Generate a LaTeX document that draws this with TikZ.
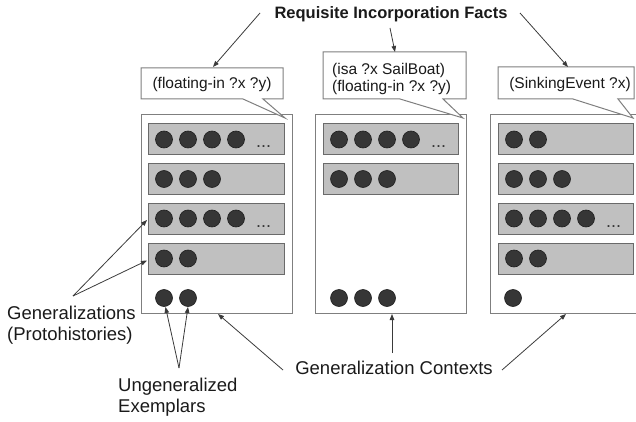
\documentclass[tikz,border=0pt]{standalone}
\usepackage{fontspec}
\setmainfont{Liberation Sans}
\usetikzlibrary{arrows.meta}
\definecolor{panelline}{HTML}{7F7F7F}
\definecolor{rowfill}{HTML}{C0C0C0}
\definecolor{rowline}{HTML}{6A6A6A}
\definecolor{dotfill}{HTML}{363636}
\definecolor{dotline}{HTML}{1E1E1E}
\definecolor{arrowc}{HTML}{3A3A3A}
\definecolor{txt}{HTML}{1A1A1A}
\tikzset{
  panel/.style={draw=panelline, fill=white, line width=1pt},
  rowbox/.style={draw=rowline, fill=rowfill, line width=1pt},
  dot/.style={circle, fill=dotfill, draw=dotline, line width=0.6pt, minimum size=17pt, inner sep=0pt},
  ell/.style={text=dotfill, font=\fontsize{18}{18}\selectfont, inner sep=0pt, anchor=base},
  callout/.style={draw=panelline, fill=white, line width=1pt, line join=miter},
  arr/.style={draw=arrowc, line width=0.8pt, -{Triangle[length=6pt,width=4.5pt]}},
  ctext/.style={text=txt, font=\fontsize{15.5}{17}\selectfont, inner sep=0pt},
  lbl/.style={text=txt, font=\fontsize{18.5}{20.5}\selectfont, inner sep=0pt, align=left},
}
\begin{document}
\begin{tikzpicture}[x=1pt,y=-1pt]
\useasboundingbox (0,0) rectangle (636,422);
\clip (0,0) rectangle (636,422);

% ---------- panels ----------
\draw[panel] (141,115) rectangle (292,313);
\draw[panel] (315,115) rectangle (466,313);
\draw[panel] (490,115) rectangle (641,313);

% left panel rows
\foreach \yt in {124,163.5,203,243}
  \draw[rowbox] (148,\yt) rectangle (284,{\yt+31});
\foreach \i in {1,...,4} \node[dot] (L1d\i) at ({164+24*(\i-1)},139.5) {};
\node[ell] (L1e) at (263.5,148) {...};
\foreach \i in {1,...,3} \node[dot] (L2d\i) at ({164+24*(\i-1)},179) {};
\foreach \i in {1,...,4} \node[dot] (L3d\i) at ({164+24*(\i-1)},218.5) {};
\node[ell] (L3e) at (263.5,227) {...};
\foreach \i in {1,...,2} \node[dot] (L4d\i) at ({164+24*(\i-1)},258.5) {};
\foreach \i in {1,...,2} \node[dot] (L5d\i) at ({164+24*(\i-1)},298) {};

% middle panel rows
\foreach \yt in {124,163.5}
  \draw[rowbox] (323,\yt) rectangle (458,{\yt+31});
\foreach \i in {1,...,4} \node[dot] (M1d\i) at ({339+24*(\i-1)},139.5) {};
\node[ell] (M1e) at (438.5,148) {...};
\foreach \i in {1,...,3} \node[dot] (M2d\i) at ({339+24*(\i-1)},179) {};
\foreach \i in {1,...,3} \node[dot] (M5d\i) at ({339+24*(\i-1)},298) {};

% right panel rows
\foreach \yt in {124,163.5,203,243}
  \draw[rowbox] (498,\yt) rectangle (633,{\yt+31});
\foreach \i in {1,...,2} \node[dot] (R1d\i) at ({514+24*(\i-1)},139.5) {};
\foreach \i in {1,...,3} \node[dot] (R2d\i) at ({514+24*(\i-1)},179) {};
\foreach \i in {1,...,4} \node[dot] (R3d\i) at ({514+24*(\i-1)},218.5) {};
\node[ell] (R3e) at (613.5,227) {...};
\foreach \i in {1,...,2} \node[dot] (R4d\i) at ({514+24*(\i-1)},258.5) {};
\node[dot] (R5d1) at (513,298) {};

% ---------- callouts ----------
\draw[callout] (141,68) -- (283,68) -- (283,99) -- (263,99) -- (285,118) -- (243,99) -- (141,99) -- cycle;
\node[ctext] (c1t) at (212,84) {(floating-in ?x ?y)};

\draw[callout] (323,52) -- (466,52) -- (466,99) -- (443,99) -- (463,118) -- (400,99) -- (323,99) -- cycle;
\node[ctext, anchor=west] (c2a) at (332,70) {(isa ?x SailBoat)};
\node[ctext, anchor=west] (c2b) at (332,87) {(floating-in ?x ?y)};

\draw[callout] (498,67) -- (634,67) -- (634,99) -- (618,99) -- (633,118) -- (573,99) -- (498,99) -- cycle;
\node[ctext] (c3t) at (570,84) {(SinkingEvent ?x)};

% ---------- labels ----------
\node[text=txt, font=\bfseries\fontsize{16.5}{18}\selectfont, inner sep=0pt] (title) at (391,14) {Requisite Incorporation Facts};
\node[lbl, anchor=west] (gen) at (7,325) {Generalizations\\(Protohistories)};
\node[lbl, anchor=west] (ung) at (118,397) {Ungeneralized\\Exemplars};
\node[lbl] (ctx) at (394,368) {Generalization Contexts};

% ---------- arrow end points ----------
\coordinate (tL) at (260,13);
\coordinate (tM) at (390,28);
\coordinate (tR) at (520,13);
\coordinate (c1top) at (213,67);
\coordinate (c2top) at (395,52);
\coordinate (c3top) at (568,67);

\coordinate (gO) at (73,296);
\coordinate (gT3) at (147,220);
\coordinate (gT4) at (147,260.5);

\coordinate (uO) at (179,368);
\coordinate (uT1) at (165.5,307);
\coordinate (uT2) at (188,307);

\coordinate (xL) at (283,370);
\coordinate (xM) at (392,353);
\coordinate (xR) at (502,370);
\coordinate (pL) at (218,314);
\coordinate (pM) at (392,314);
\coordinate (pR) at (566,314);

% ---------- arrows ----------
\draw[arr] (tL) -- (c1top);
\draw[arr] (tM) -- (c2top);
\draw[arr] (tR) -- (c3top);
\draw[arr] (gO) -- (gT3);
\draw[arr] (gO) -- (gT4);
\draw[arr] (uO) -- (uT1);
\draw[arr] (uO) -- (uT2);
\draw[arr] (xL) -- (pL);
\draw[arr] (xM) -- (pM);
\draw[arr] (xR) -- (pR);
\end{tikzpicture}
\end{document}
